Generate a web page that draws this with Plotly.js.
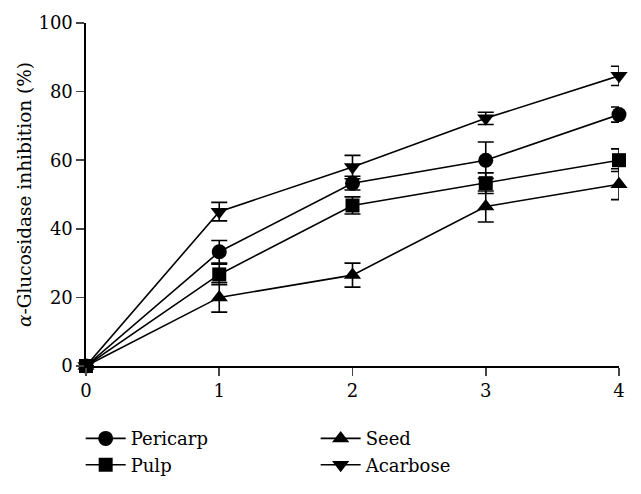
<!DOCTYPE html>
<html>
<head>
<meta charset="utf-8">
<script src="https://cdn.plot.ly/plotly-3.0.1.min.js"></script>
<style>html,body{margin:0;padding:0;background:#fff;}#chart{width:641px;height:494px;}</style>
</head>
<body>
<div id="chart"></div>
<script>
const concentration = [0, 1, 2, 3, 4];
const pericarp = [0, 33.3, 53.3, 60.0, 73.3];
const pericarpErr = [0, 3.3, 2.0, 5.3, 2.2];
const pulp = [0, 26.7, 46.8, 53.3, 60.0];
const pulpErr = [0, 3.0, 2.5, 3.0, 3.3];
const seed = [0, 20.0, 26.5, 46.5, 53.0];
const seedErr = [0, 4.3, 3.5, 4.5, 4.5];
const acarbose = [0, 45.0, 58.0, 72.2, 84.6];
const acarboseErr = [0, 2.7, 3.4, 1.8, 2.8];
const seriesNames = ["Pericarp", "Pulp", "Seed", "Acarbose"];
const symbols = ["circle", "square", "triangle-up", "triangle-down"];
const ranks = [1, 3, 2, 4];
const tickVals = [0, 20, 40, 60, 80, 100];

const ys = [pericarp, pulp, seed, acarbose];
const errs = [pericarpErr, pulpErr, seedErr, acarboseErr];
const sizes = [15, 14, 15, 15];

const traces = ys.map((y, i) => ({
  x: concentration,
  y: y,
  name: seriesNames[i],
  type: "scatter",
  mode: "lines+markers",
  line: {color: "#000", width: 1.6},
  marker: {symbol: symbols[i], size: sizes[i], color: "#000"},
  error_y: {type: "data", array: errs[i], visible: true, color: "#000", thickness: 1.6, width: 8},
  legendrank: ranks[i],
  cliponaxis: false
}));

const serifFont = "DejaVu Serif";
const layout = {
  width: 641, height: 494,
  margin: {l: 86, r: 22, t: 23, b: 128, autoexpand: false},
  paper_bgcolor: "#fff", plot_bgcolor: "#fff",
  font: {family: serifFont, size: 17, color: "#000"},
  showlegend: true,
  xaxis: {
    range: [0, 4], tickvals: concentration, ticks: "outside", ticklen: 8, tickwidth: 1.6,
    showline: true, linecolor: "#000", linewidth: 1.6, showgrid: false, zeroline: false,
    tickfont: {family: serifFont, size: 18}
  },
  yaxis: {
    range: [0, 100], tickvals: tickVals, ticks: "outside", ticklen: 8, tickwidth: 1.6,
    showline: true, linecolor: "#000", linewidth: 1.6, showgrid: false, zeroline: false,
    tickfont: {family: serifFont, size: 18},
    title: {text: "<i>α</i>-Glucosidase inhibition (%)", font: {family: serifFont, size: 18.5}, standoff: 2}
  },
  legend: {
    orientation: "h", x: -0.01, xanchor: "left", y: -0.158, yanchor: "top",
    entrywidth: 180, entrywidthmode: "pixels", traceorder: "normal",
    font: {family: serifFont, size: 18}, tracegroupgap: 0, itemwidth: 40
  }
};
Plotly.newPlot("chart", traces, layout, {displayModeBar: false, staticPlot: true});
</script>
</body>
</html>
